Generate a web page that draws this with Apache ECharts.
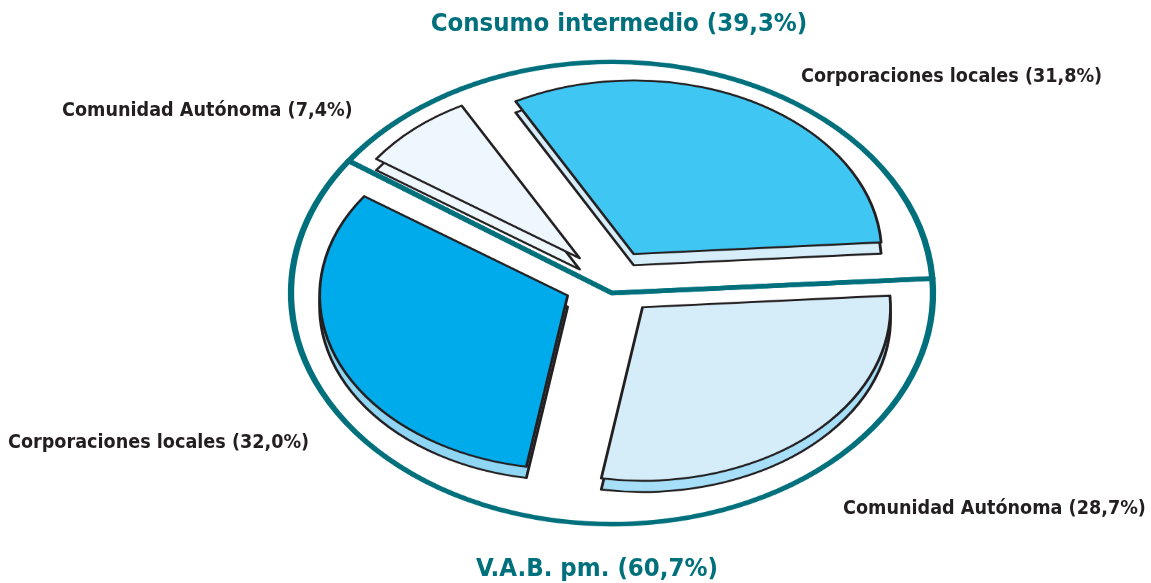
<!DOCTYPE html>
<html>
<head>
<meta charset="utf-8">
<script src="https://cdn.jsdelivr.net/npm/echarts@6/dist/echarts.min.js"></script>
<style>
  html, body { margin: 0; padding: 0; background: #fff; }
  #wrap { position: relative; width: 1151px; height: 583px; overflow: hidden; }
  /* pies are drawn round, then squashed into ellipses */
  #ring { position: absolute; left: 0; top: 0; width: 1151px; height: 810px; transform: scaleY(0.72); transform-origin: 0 0; }
  #pie { position: absolute; left: 0; top: 0; width: 1151px; height: 833px; transform: scaleY(0.7); transform-origin: 0 0; }
  #txt { position: absolute; left: 0; top: 0; width: 1151px; height: 583px; pointer-events: none; }
</style>
</head>
<body>
<div id="wrap">
  <div id="ring"></div>
  <div id="pie"></div>
  <div id="txt"></div>
</div>
<script>
// slices, clockwise from the small one at top-left
var sliceNames = ['Comunidad Autónoma', 'Corporaciones locales', 'Comunidad Autónoma', 'Corporaciones locales'];
var sliceValues = [7.4, 31.8, 28.7, 32.0];
// the two halves split by the teal line
var groupNames = ['Consumo intermedio', 'V.A.B. pm.'];
var groupValues = [39.3, 60.7];

var topColors = ['#eef7fd', '#40c6f2', '#d5ecf9', '#00abeb'];
var rimColors = ['#eef7fd', '#d5eefa', '#a6dff7', '#8fd6f4'];
var TEAL = '#00707c';
var INK = '#231f20';
var START = 145.1;

function pct(v) { return '(' + v.toFixed(1).replace('.', ',') + '%)'; }

function sliceData(colors) {
    return sliceValues.map(function(v, i) {
        return { name: sliceNames[i], value: v, selected: true, itemStyle: { color: colors[i] } };
    });
}

var pieBase = {
    type: 'pie',
    startAngle: START,
    silent: true,
    animation: false,
    selectedMode: 'multiple',
    label: { show: false },
    labelLine: { show: false },
    emphasis: { disabled: true }
};

// teal outline + divider: a two-part pie with only borders
var ringChart = echarts.init(document.getElementById('ring'), null, { renderer: 'canvas' });
ringChart.setOption({
    animation: false,
    series: [Object.assign({}, pieBase, {
        name: 'outline',
        center: [612, 407],
        radius: 321,
        selectedMode: false,
        data: groupValues.map(function(v, i) { return { name: groupNames[i], value: v }; }),
        itemStyle: { color: 'rgba(0,0,0,0)', borderColor: TEAL, borderWidth: 6.3 }
    })]
});

var pieChart = echarts.init(document.getElementById('pie'), null, { renderer: 'canvas' });
pieChart.setOption({
    animation: false,
    series: [
        Object.assign({}, pieBase, {
            name: 'rim',
            center: [611, 420],
            radius: 248,
            selectedOffset: 47,
            data: sliceData(rimColors),
            itemStyle: { borderColor: INK, borderWidth: 2.8 },
            select: { itemStyle: { borderColor: INK, borderWidth: 2.8 } }
        }),
        Object.assign({}, pieBase, {
            name: 'top',
            center: [611, 404],
            radius: 248,
            selectedOffset: 47,
            data: sliceData(topColors),
            itemStyle: { borderColor: INK, borderWidth: 2.8 },
            select: { itemStyle: { borderColor: INK, borderWidth: 2.8 } }
        })
    ]
});

// text layer (not squashed)
var txtChart = echarts.init(document.getElementById('txt'), null, { renderer: 'canvas' });
var FONT = '"DejaVu Sans Condensed", "DejaVu Sans", sans-serif';
function label(text, x, y, align, size, color) {
    return {
        type: 'text', x: x, y: y,
        style: {
            text: text, fill: color, textAlign: align, textVerticalAlign: 'middle',
            font: 'bold ' + size + 'px ' + FONT
        }
    };
}
// label spots for slices, in slice order
var labelSpots = [[62, 111], [801, 77], [843, 509], [8, 443]];
var elements = sliceNames.map(function(n, i) {
    return label(n + ' ' + pct(sliceValues[i]), labelSpots[i][0], labelSpots[i][1], 'left', 19.6, INK);
});
elements.push(label(groupNames[0] + ' ' + pct(groupValues[0]), 619, 24, 'center', 25.5, TEAL));
elements.push(label(groupNames[1] + ' ' + pct(groupValues[1]), 597, 569, 'center', 25.5, TEAL));
txtChart.setOption({ animation: false, graphic: { elements: elements } });
</script>
</body>
</html>
